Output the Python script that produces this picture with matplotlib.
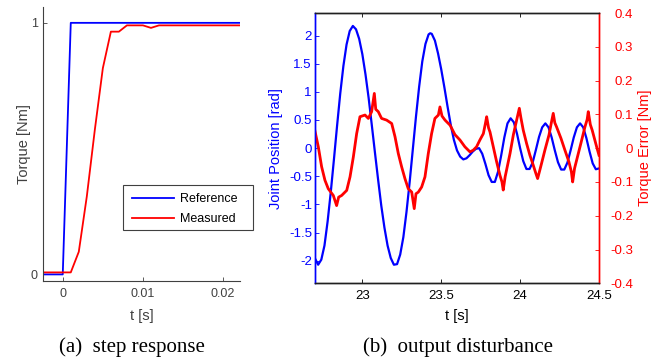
import matplotlib

matplotlib.use("Agg")
import matplotlib.pyplot as plt
from matplotlib.patches import Rectangle

plt.rcParams["font.family"] = ["Liberation Sans", "DejaVu Sans"]

# (a) step response
t_step = [-0.0025, 0.0, 0.001, 0.002, 0.003, 0.004, 0.005, 0.006, 0.007, 0.008,
          0.009, 0.010, 0.011, 0.012, 0.013, 0.014, 0.015, 0.016, 0.017, 0.018,
          0.019, 0.020, 0.021, 0.022]
torque_ref = [0.0, 0.0, 1.0, 1.0, 1.0, 1.0, 1.0, 1.0, 1.0, 1.0,
              1.0, 1.0, 1.0, 1.0, 1.0, 1.0, 1.0, 1.0, 1.0, 1.0,
              1.0, 1.0, 1.0, 1.0]
torque_meas = [0.008, 0.008, 0.008, 0.09, 0.31, 0.575, 0.82, 0.965, 0.965, 0.99,
               0.99, 0.99, 0.98, 0.99, 0.99, 0.99, 0.99, 0.99, 0.99, 0.99,
               0.99, 0.99, 0.99, 0.99]

# (b) output disturbance: joint position
t_pos = [22.70, 22.72, 22.74, 22.76, 22.78, 22.80, 22.82, 22.84, 22.86, 22.88,
         22.90, 22.92, 22.94, 22.96, 22.98, 23.00, 23.02, 23.04, 23.06, 23.08,
         23.10, 23.12, 23.14, 23.16, 23.18, 23.20, 23.22, 23.24, 23.26, 23.28,
         23.30, 23.32, 23.34, 23.36, 23.38, 23.40, 23.42, 23.43, 23.44, 23.46,
         23.48, 23.50, 23.52, 23.54, 23.56, 23.58, 23.60, 23.62, 23.64, 23.66,
         23.68, 23.70, 23.72, 23.74, 23.76, 23.78, 23.80, 23.82, 23.84, 23.86,
         23.88, 23.90, 23.92, 23.94, 23.96, 23.98, 24.00, 24.02, 24.04, 24.06,
         24.08, 24.10, 24.12, 24.14, 24.16, 24.18, 24.20, 24.22, 24.24, 24.26,
         24.28, 24.30, 24.32, 24.34, 24.36, 24.38, 24.40, 24.42, 24.44, 24.46,
         24.48, 24.50]
joint_pos = [-1.96, -2.07, -1.98, -1.73, -1.30, -0.78, -0.20, 0.40, 0.97, 1.46,
             1.84, 2.08, 2.17, 2.11, 1.94, 1.67, 1.31, 0.89, 0.41, -0.08,
             -0.56, -1.02, -1.41, -1.73, -1.95, -2.07, -2.06, -1.89, -1.58, -1.13,
             -0.60, -0.02, 0.56, 1.09, 1.54, 1.85, 2.02, 2.04, 2.03, 1.91,
             1.68, 1.40, 1.08, 0.74, 0.42, 0.15, -0.04, -0.15, -0.20, -0.18,
             -0.125, -0.06, -0.012, 0.0, -0.10, -0.28, -0.48, -0.60, -0.60, -0.42,
             -0.13, 0.19, 0.44, 0.53, 0.46, 0.26, 0.00, -0.23, -0.37, -0.37,
             -0.25, -0.03, 0.20, 0.37, 0.44, 0.37, 0.19, -0.04, -0.25, -0.38,
             -0.38, -0.255, -0.04, 0.19, 0.37, 0.44, 0.37, 0.18, -0.06, -0.27,
             -0.375, -0.36]

# (b) output disturbance: torque error (centre of the noisy trace plus its spikes)
t_err = [22.700, 22.721, 22.742, 22.763, 22.784, 22.816, 22.837, 22.850, 22.869, 22.901,
         22.922, 22.943, 22.964, 22.985, 23.017, 23.038, 23.059, 23.076, 23.085, 23.101,
         23.122, 23.154, 23.186, 23.207, 23.228, 23.249, 23.270, 23.291, 23.313, 23.329,
         23.340, 23.355, 23.376, 23.397, 23.418, 23.439, 23.460, 23.482, 23.492, 23.505,
         23.524, 23.556, 23.587, 23.619, 23.650, 23.682, 23.703, 23.724, 23.745, 23.767,
         23.780, 23.788, 23.800, 23.809, 23.830, 23.851, 23.872, 23.885, 23.893, 23.905,
         23.914, 23.936, 23.957, 23.978, 23.995, 24.005, 24.020, 24.041, 24.062, 24.083,
         24.100, 24.111, 24.125, 24.136, 24.157, 24.183, 24.200, 24.210, 24.220, 24.231,
         24.259, 24.284, 24.309, 24.325, 24.333, 24.345, 24.358, 24.385, 24.411, 24.425,
         24.432, 24.445, 24.457, 24.485, 24.500]
torque_err = [0.050, 0.004, -0.055, -0.095, -0.120, -0.140, -0.170, -0.145, -0.140, -0.125,
              -0.085, -0.026, 0.043, 0.093, 0.098, 0.088, 0.108, 0.162, 0.115, 0.108,
              0.088, 0.083, 0.073, 0.034, -0.016, -0.055, -0.090, -0.120, -0.130, -0.179,
              -0.135, -0.130, -0.115, -0.085, -0.016, 0.043, 0.088, 0.098, 0.122, 0.095,
              0.083, 0.068, 0.040, 0.024, 0.004, -0.011, -0.006, 0.004, 0.024, 0.043,
              0.073, 0.093, 0.060, 0.048, 0.004, -0.040, -0.080, -0.100, -0.124, -0.085,
              -0.065, -0.016, 0.039, 0.083, 0.118, 0.090, 0.053, 0.014, -0.021, -0.050,
              -0.075, -0.090, -0.065, -0.045, -0.006, 0.039, 0.080, 0.103, 0.075, 0.063,
              0.029, -0.006, -0.040, -0.070, -0.100, -0.060, -0.036, 0.014, 0.063, 0.085,
              0.108, 0.070, 0.053, 0.004, -0.021]

BLUE = "#0000ff"
RED = "#ff0000"
GRAY = "#404040"

fig = plt.figure(figsize=(6.61, 3.6), dpi=100)

# ---- left panel
ax = fig.add_axes([42.7 / 661, 1 - 280.7 / 360, (240 - 42.7) / 661, (280.7 - 7) / 360])
ax.plot(t_step, torque_ref, color=BLUE, lw=1.3, label="Reference")
ax.plot(t_step, torque_meas, color=RED, lw=1.3, label="Measured")
ax.set_xlim(-0.0025, 0.0221)
ax.set_ylim(-0.025, 1.063)
ax.set_xticks([0, 0.01, 0.02])
ax.set_xticklabels(["0", "0.01", "0.02"])
ax.set_yticks([0, 1])
ax.spines["top"].set_visible(False)
ax.spines["right"].set_visible(False)
for s in ("left", "bottom"):
    ax.spines[s].set_color(GRAY)
    ax.spines[s].set_linewidth(0.8)
ax.tick_params(direction="in", length=3, width=0.6, colors=GRAY, labelsize=9)
ax.tick_params(axis="x", pad=5)
ax.set_xlabel("t [s]", fontsize=10.5, color=GRAY, labelpad=7)
ax.set_ylabel("Torque [Nm]", fontsize=10.5, color=GRAY, labelpad=0)

# legend box drawn by hand so it can be as wide as the original
box = Rectangle((122.7 / 661, 1 - 230 / 360), (253.3 - 122.7) / 661, 45 / 360,
                transform=fig.transFigure, facecolor="white", edgecolor=GRAY,
                lw=0.8, zorder=4, clip_on=False)
ax.add_patch(box)
leg = ax.legend(loc="upper left", bbox_to_anchor=(131.7 / 661, 1 - 193 / 360),
                bbox_transform=fig.transFigure, borderaxespad=0, borderpad=0,
                fontsize=9, handlelength=3.35, handletextpad=0.55, labelspacing=0.65,
                frameon=False)
leg.set_zorder(6)
leg.set_in_layout(False)

# ---- right panel
ax1 = fig.add_axes([315 / 661, 1 - 283.3 / 360, (599 - 315) / 661, (283.3 - 13) / 360])
ax1.plot(t_pos, joint_pos, color=BLUE, lw=1.6)
ax1.set_xlim(22.7, 24.5)
ax1.set_ylim(-2.4, 2.4)
ax1.set_xticks([23, 23.5, 24, 24.5])
ax1.set_xticklabels(["23", "23.5", "24", "24.5"])
ax1.set_yticks([-2, -1.5, -1, -0.5, 0, 0.5, 1, 1.5, 2])
ax1.set_yticklabels(["-2", "-1.5", "-1", "-0.5", "0", "0.5", "1", "1.5", "2"])
ax1.tick_params(axis="x", direction="in", length=3, width=0.6, labelsize=9.5,
                top=True, pad=5)
ax1.tick_params(axis="y", direction="in", length=3, width=0.6, labelsize=9.5,
                colors=BLUE, pad=2.2)
ax1.set_xlabel("t [s]", fontsize=10.5, labelpad=5)
ax1.set_ylabel("Joint Position [rad]", fontsize=10.5, color=BLUE, labelpad=4.5)

ax2 = ax1.twinx()
ax2.plot(t_err, torque_err, color=RED, lw=2.0)
ax2.set_ylim(-0.4, 0.4)
ax2.set_yticks([-0.4, -0.3, -0.2, -0.1, 0, 0.1, 0.2, 0.3, 0.4])
ax2.set_yticklabels(["-0.4", "-0.3", "-0.2", "-0.1", "0", "0.1", "0.2", "0.3", "0.4"],
                    ha="right")
ax2.tick_params(axis="y", direction="in", length=3, width=0.6, labelsize=9.5,
                colors=RED, pad=24.5)
ax2.set_ylabel("Torque Error [Nm]", fontsize=10.5, color=RED, labelpad=3.6)
for a in (ax1, ax2):
    a.spines["top"].set_color("#202020")
    a.spines["bottom"].set_color("#202020")
    a.spines["left"].set_color(BLUE)
    a.spines["right"].set_color(RED)
    for s in a.spines.values():
        s.set_linewidth(1.0)

# captions
fig.text(132 / 661, 1 - 347 / 360, "(a)  step response", family="Liberation Serif",
         fontsize=15, ha="center", va="center")
fig.text(458 / 661, 1 - 347 / 360, "(b)  output disturbance", family="Liberation Serif",
         fontsize=15, ha="center", va="center")

fig.savefig("out.png", dpi=100)
